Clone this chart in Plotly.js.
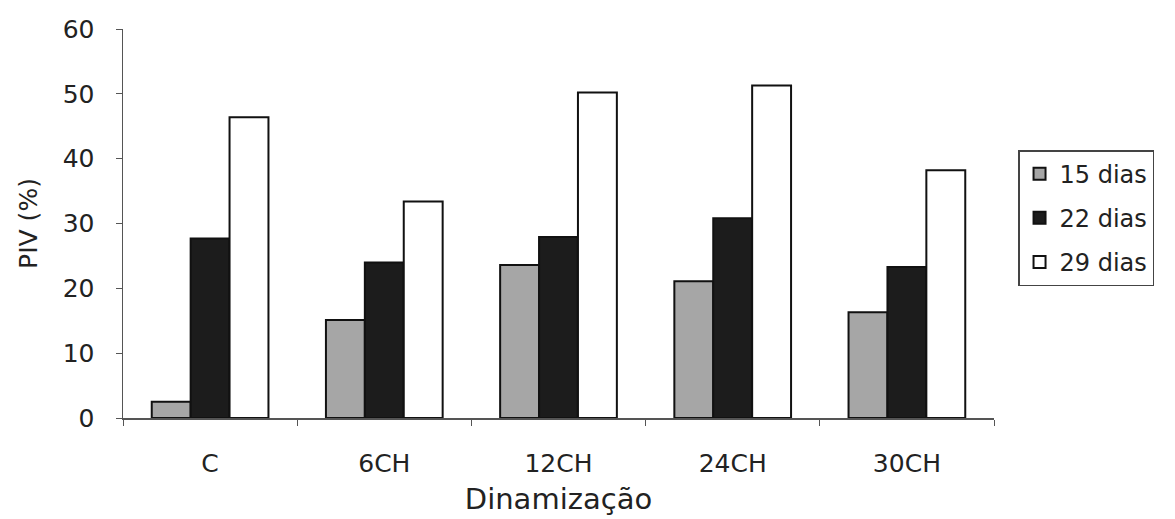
<!DOCTYPE html>
<html>
<head>
<meta charset="utf-8">
<script src="https://cdn.plot.ly/plotly-3.0.1.min.js"></script>
<style>html,body{margin:0;padding:0;background:#fff;}#chart{width:1175px;height:519px;}</style>
</head>
<body>
<div id="chart"></div>
<script>
const categories = ["C", "6CH", "12CH", "24CH", "30CH"];
const seriesNames = ["15 dias", "22 dias", "29 dias"];
const dias15 = [2.5, 15.1, 23.6, 21.1, 16.3];
const dias22 = [27.7, 24.0, 27.9, 30.8, 23.3];
const dias29 = [46.4, 33.4, 50.2, 51.3, 38.2];
const yTicks = [0, 10, 20, 30, 40, 50, 60];

const fills = ["#a6a6a6", "#1c1c1c", "#ffffff"];
const values = [dias15, dias22, dias29];

const traces = values.map((v, i) => ({
  type: "bar",
  name: seriesNames[i],
  legendgroup: "g" + i,
  x: categories,
  y: v,
  marker: {color: fills[i], line: {color: "#111", width: 2}},
  hoverinfo: "x+y+name"
}));

const fam = "DejaVu Sans, Verdana, sans-serif";
const font = (s) => ({family: fam, size: s, color: "#222"});

const layout = {
  width: 1175, height: 519,
  paper_bgcolor: "#fff", plot_bgcolor: "#fff",
  margin: {l: 123, r: 181, t: 29, b: 101},
  barmode: "group",
  bargap: 0.33,
  bargroupgap: 0,
  font: font(24),
  showlegend: true,
  legend: {
    x: 1.0276, xanchor: "left", y: 0.514, yanchor: "middle",
    bordercolor: "#444", borderwidth: 1.5, bgcolor: "#fff",
    font: font(24),
    itemwidth: 30, tracegroupgap: 10
  },
  xaxis: {
    type: "category",
    showline: true, linecolor: "#555", linewidth: 1.5,
    ticks: "outside", tickson: "boundaries", ticklen: 6, tickcolor: "#555",
    ticklabelstandoff: 22,
    showgrid: false, zeroline: false,
    tickfont: font(25),
    title: {text: "Dinamização", font: font(29), standoff: 12}
  },
  yaxis: {
    range: [0, 60], tickvals: yTicks, ticktext: yTicks.map(String),
    showline: true, linecolor: "#555", linewidth: 1.5,
    ticks: "outside", ticklen: 6, tickcolor: "#555",
    ticklabelstandoff: 16,
    showgrid: false, zeroline: false,
    tickfont: font(25),
    title: {text: "PIV (%)", font: font(25), standoff: 18}
  }
};

Plotly.newPlot("chart", traces, layout, {displayModeBar: false, staticPlot: true});
</script>
</body>
</html>
